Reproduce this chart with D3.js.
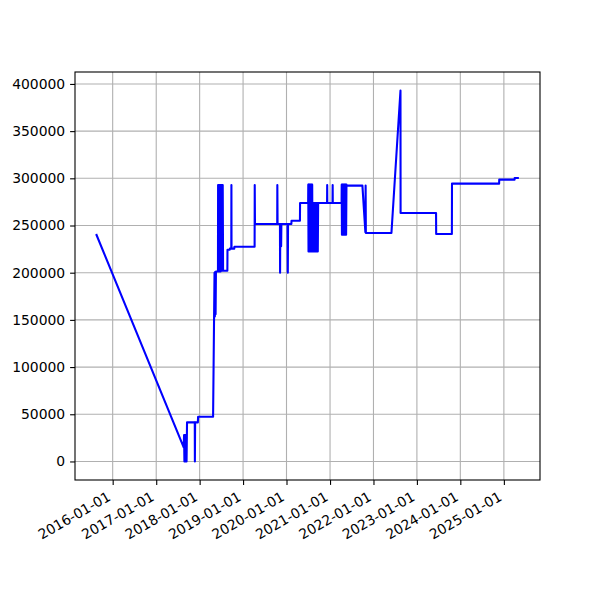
<!DOCTYPE html>
<html>
<head>
<meta charset="utf-8">
<script src="https://cdn.jsdelivr.net/npm/d3@7"></script>
<style>
  html, body { margin: 0; padding: 0; background: #fff; }
  svg { display: block; font-family: "DejaVu Sans", sans-serif; }
</style>
</head>
<body>
<svg id="chart" width="600" height="600"></svg>
<script>
const dates = [
  "2015-08-15","2017-08-20","2017-08-23","2017-08-26","2017-08-29","2017-09-01","2017-09-04","2017-09-07","2017-09-10","2017-09-13",
  "2017-09-17","2017-11-21","2017-11-22","2017-11-24","2017-12-17","2017-12-19","2018-04-24","2018-05-06","2018-05-09","2018-05-12",
  "2018-05-15","2018-05-18","2018-06-04",
  "2018-06-05","2018-06-07","2018-06-09","2018-06-11","2018-06-14","2018-06-16","2018-06-19","2018-06-21","2018-06-24","2018-06-26",
  "2018-06-29","2018-07-01","2018-07-04","2018-07-06","2018-07-09","2018-07-11","2018-07-14","2018-07-17",
  "2018-08-22","2018-08-23","2018-09-11","2018-09-12","2018-09-24","2018-09-25","2018-09-26","2018-10-19","2018-10-20",
  "2019-04-08","2019-04-09","2019-04-11","2019-10-15","2019-10-16","2019-10-18","2019-11-07","2019-11-08","2019-11-10","2019-11-12",
  "2019-11-14","2019-11-17","2019-11-19","2020-01-10","2020-01-12","2020-01-14","2020-02-11","2020-02-12","2020-04-23","2020-04-24",
  "2020-07-01",
  "2020-07-02","2020-07-04","2020-07-06","2020-07-08","2020-07-10","2020-07-13","2020-07-15","2020-07-18","2020-07-20","2020-07-23",
  "2020-07-25","2020-07-28","2020-07-30","2020-08-02","2020-08-04","2020-08-06",
  "2020-08-09","2020-08-11","2020-08-14","2020-08-16","2020-08-19","2020-08-21","2020-08-24","2020-08-26","2020-08-29","2020-08-31",
  "2020-09-03","2020-09-05","2020-09-08","2020-09-10","2020-09-13","2020-09-15","2020-09-18","2020-09-20","2020-09-23",
  "2020-12-07","2020-12-08","2020-12-09","2021-01-22","2021-01-23","2021-01-24","2021-04-08",
  "2021-04-09","2021-04-11","2021-04-14","2021-04-16","2021-04-19","2021-04-21","2021-04-24","2021-04-26","2021-04-29","2021-05-01",
  "2021-05-04","2021-05-06","2021-05-09","2021-05-11","2021-05-14","2021-05-16","2021-05-19",
  "2021-05-20","2021-09-30","2021-10-25","2021-10-27","2021-10-29","2022-06-01","2022-08-16","2022-08-17","2023-06-11","2023-06-12",
  "2023-10-22","2023-10-23","2024-11-22","2024-11-23","2025-04-01","2025-04-02","2025-05-07"
];
const values = [
  241000,15000,28000,0,28000,0,28000,0,26000,0,
  41400,41400,0,41400,41400,47300,47300,200000,153500,201000,
  156000,201300,201300,
  293000,201300,293000,201300,293000,201300,293000,201300,293000,201300,
  293000,202000,293000,202000,293000,202000,293000,202000,
  202000,224300,224300,225500,225500,293000,225500,225500,227500,
  227500,293000,251600,251600,293000,251600,251600,200000,251600,228000,
  251600,228000,251600,251600,200000,251600,251600,255100,255100,273900,
  273900,
  293300,222500,293300,222500,293300,222500,293300,222500,293300,222500,
  293300,222500,293300,222500,293300,222500,
  273900,222500,273900,222500,273900,222500,273900,222500,273900,222500,
  273900,222500,273900,222500,273900,222500,273900,222500,273900,
  273900,293000,273900,273900,293000,273900,273900,
  293300,240200,293300,240200,293300,240200,293300,240200,293300,240200,
  293300,240200,293300,240200,293300,240200,293300,
  292300,292300,243000,292300,242000,242000,393000,263300,263300,241000,
  241000,294400,294400,298600,298600,300400,300400
];
const xTickLabels = ["2016-01-01","2017-01-01","2018-01-01","2019-01-01","2020-01-01","2021-01-01","2022-01-01","2023-01-01","2024-01-01","2025-01-01"];
const yTickValues = [0,50000,100000,150000,200000,250000,300000,350000,400000];

(function () {
const parse = d3.timeParse("%Y-%m-%d");
const data = dates.map((d, i) => ({ date: parse(d), value: values[i] }));

const svg = d3.select("#chart");
const mLeft = 75, mRight = 540, mTop = 72, mBottom = 480;

const xExt = d3.extent(data, d => d.date);
const xSpan = xExt[1] - xExt[0];
const x = d3.scaleTime()
  .domain([new Date(+xExt[0] - 0.05 * xSpan), new Date(+xExt[1] + 0.05 * xSpan)])
  .range([mLeft, mRight]);
const yExt = d3.extent(data, d => d.value);
const ySpan = yExt[1] - yExt[0];
const y = d3.scaleLinear()
  .domain([yExt[0] - 0.05 * ySpan, yExt[1] + 0.05 * ySpan])
  .range([mBottom, mTop]);

const xTicks = xTickLabels.map(parse);

// grid
const grid = svg.append("g");
grid.selectAll("line.gx").data(xTicks).enter().append("line")
  .attr("x1", d => x(d)).attr("x2", d => x(d))
  .attr("y1", mTop).attr("y2", mBottom)
  .attr("stroke", "#b0b0b0").attr("stroke-width", 1.1);
grid.selectAll("line.gy").data(yTickValues).enter().append("line")
  .attr("x1", mLeft).attr("x2", mRight)
  .attr("y1", d => y(d)).attr("y2", d => y(d))
  .attr("stroke", "#b0b0b0").attr("stroke-width", 1.1);

// line
svg.append("defs").append("clipPath").attr("id", "clip")
  .append("rect").attr("x", mLeft).attr("y", mTop).attr("width", mRight - mLeft).attr("height", mBottom - mTop);
svg.append("path")
  .datum(data)
  .attr("clip-path", "url(#clip)")
  .attr("fill", "none")
  .attr("stroke", "#0000ff")
  .attr("stroke-width", 2.08)
  .attr("stroke-linejoin", "round")
  .attr("stroke-linecap", "butt")
  .attr("d", d3.line().x(d => x(d.date)).y(d => y(d.value)));

// axes
const fmt = d3.timeFormat("%Y-%m-%d");
const xAxis = d3.axisBottom(x).tickValues(xTicks).tickFormat(fmt).tickSize(4.9).tickPadding(4.9);
const gx = svg.append("g").attr("transform", `translate(0,${mBottom})`).call(xAxis);
gx.select(".domain").remove();
gx.selectAll(".tick line").attr("stroke", "#000").attr("stroke-width", 1.1);
gx.selectAll(".tick text")
  .attr("font-size", "13.9px")
  .attr("font-family", "DejaVu Sans, sans-serif")
  .attr("fill", "#000")
  .attr("text-anchor", "end")
  .attr("dy", null)
  .attr("y", null)
  .attr("transform", "translate(-1.5,19.5) rotate(-30)");

const yAxis = d3.axisLeft(y).tickValues(yTickValues).tickFormat(d3.format("d")).tickSize(4.9).tickPadding(4.9);
const gy = svg.append("g").attr("transform", `translate(${mLeft},0)`).call(yAxis);
gy.select(".domain").remove();
gy.selectAll(".tick line").attr("stroke", "#000").attr("stroke-width", 1.1);
gy.selectAll(".tick text")
  .attr("font-size", "13.9px")
  .attr("font-family", "DejaVu Sans, sans-serif")
  .attr("fill", "#000");

// spines
svg.append("rect")
  .attr("x", mLeft).attr("y", mTop).attr("width", mRight - mLeft).attr("height", mBottom - mTop)
  .attr("fill", "none").attr("stroke", "#000").attr("stroke-width", 1.1);
})();
</script>
</body>
</html>
